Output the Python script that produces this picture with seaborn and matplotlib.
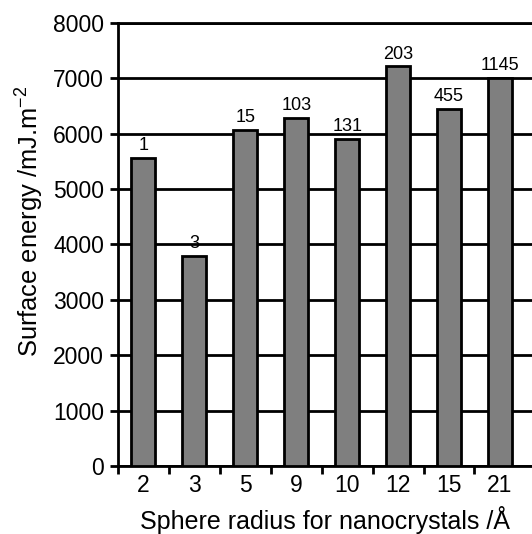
import matplotlib
matplotlib.use("Agg")
import matplotlib.pyplot as plt
import seaborn as sns
import pandas as pd
import numpy as np

radius = ["2", "3", "5", "9", "10", "12", "15", "21"]
energy = [5570, 3800, 6070, 6280, 5900, 7215, 6450, 7010]
counts = ["1", "3", "15", "103", "131", "203", "455", "1145"]
yticks = [0, 1000, 2000, 3000, 4000, 5000, 6000, 7000, 8000]

df = pd.DataFrame({"radius": radius, "energy": energy})

sns.set_theme(style="white")
plt.rcParams["font.family"] = ["Liberation Sans", "DejaVu Sans"]
plt.rcParams["mathtext.fontset"] = "custom"
plt.rcParams["mathtext.rm"] = "Liberation Sans"

fig = plt.figure(figsize=(5.32, 5.34), dpi=100)
ax = fig.add_axes([0.2218, 0.1273, 0.7782, 0.8297])

LW = 2.0
sns.barplot(data=df, x="radius", y="energy", order=radius, color="#7f7f7f",
            saturation=1, edgecolor="black", linewidth=LW, width=0.47,
            ax=ax, zorder=3)

ax.set_ylim(0, 8000)
ax.set_xlim(-0.5, 7.63)
ax.set_yticks(yticks)
ax.set_yticklabels([str(v) for v in yticks], fontsize=16.5)
ax.yaxis.grid(True, color="black", linewidth=LW, zorder=0)
ax.set_axisbelow(True)
ax.xaxis.grid(False)

ax.tick_params(axis="y", direction="out", length=6, width=LW, color="black",
               pad=4, labelcolor="black", left=True)
ax.tick_params(axis="x", which="major", length=0, pad=6, labelsize=16.5,
               labelcolor="black")
ax.set_xticks(np.arange(-0.5, 7.0, 1.0), minor=True)
ax.tick_params(axis="x", which="minor", direction="out", length=6, width=LW,
               color="black", bottom=True)

for side in ["left", "bottom", "top"]:
    ax.spines[side].set_visible(True)
    ax.spines[side].set_color("black")
    ax.spines[side].set_linewidth(LW)
ax.spines["right"].set_visible(False)

for i, (v, c) in enumerate(zip(energy, counts)):
    ax.text(i, v + 70, c, ha="center", va="bottom", fontsize=13, color="black")

ax.set_xlabel("Sphere radius for nanocrystals /Å", fontsize=18, color="black",
              labelpad=6)
ax.set_ylabel("Surface energy /mJ.m$^{-2}$", fontsize=18.4, color="black")
ax.yaxis.set_label_coords(-0.176, 0.553)

fig.savefig("out.png", dpi=100)
